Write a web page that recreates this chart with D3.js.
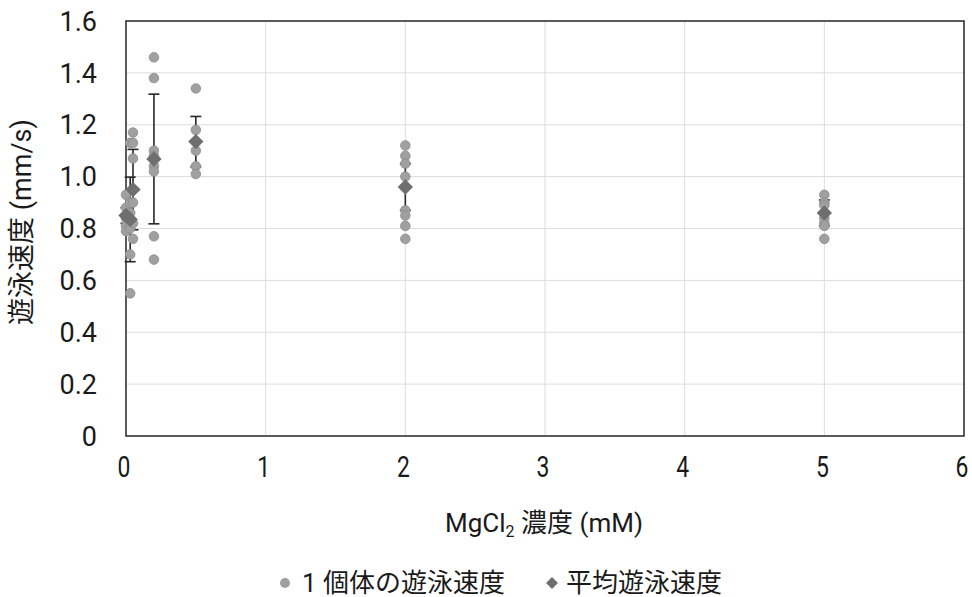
<!DOCTYPE html>
<html>
<head>
<meta charset="utf-8">
<script src="https://cdn.jsdelivr.net/npm/d3@7"></script>
<style>
  body { margin: 0; background: #fff; }
  text { font-family: Roboto, "Noto Sans CJK JP", sans-serif; fill: #1a1a1a; }
</style>
</head>
<body>
<div id="chart"></div>
<script>
// MgCl2 concentrations (mM)
const concs = [0, 0.03, 0.05, 0.2, 0.5, 2, 5]
// swimming speed of each individual (mm/s), one list per concentration
const individuals = [
  [0.93, 0.88, 0.84, 0.81, 0.79],
  [1.13, 0.90, 0.86, 0.83, 0.80, 0.70, 0.55],
  [1.17, 1.13, 1.07, 0.90, 0.82, 0.76],
  [1.46, 1.38, 1.10, 1.08, 1.04, 1.02, 0.77, 0.68],
  [1.34, 1.18, 1.10, 1.04, 1.01],
  [1.12, 1.08, 1.05, 1.00, 0.87, 0.85, 0.81, 0.76],
  [0.93, 0.90, 0.89, 0.86, 0.84, 0.82, 0.81, 0.76]
]
const means = [0.85, 0.835, 0.95, 1.068, 1.135, 0.96, 0.86]
const sds = [0.03, 0.163, 0.155, 0.25, 0.097, 0.09, 0.05]

const xTicks = [0, 1, 2, 3, 4, 5, 6]
const yTicks = [0, 0.2, 0.4, 0.6, 0.8, 1.0, 1.2, 1.4, 1.6]
const legendLabels = ['1 個体の遊泳速度', '平均遊泳速度']

const width = 972
const height = 597
const margin = { top: 21, right: 8, bottom: 161, left: 126 }

const x = d3.scaleLinear()
  .domain([0, 6])
  .range([margin.left, width - margin.right])

const y = d3.scaleLinear()
  .domain([0, 1.6])
  .range([height - margin.bottom, margin.top])

const svg = d3.select('#chart').append('svg')
  .attr('width', width)
  .attr('height', height)

// grid
svg.append('g')
  .selectAll('line')
  .data(yTicks.slice(1, -1)).enter()
  .append('line')
  .attr('x1', x(0)).attr('x2', x(6))
  .attr('y1', d => y(d)).attr('y2', d => y(d))
  .attr('stroke', '#dcdcdc')
  .attr('stroke-width', 1)

svg.append('g')
  .selectAll('line')
  .data(xTicks.slice(1, -1)).enter()
  .append('line')
  .attr('x1', d => x(d)).attr('x2', d => x(d))
  .attr('y1', y(0)).attr('y2', y(1.6))
  .attr('stroke', '#dcdcdc')
  .attr('stroke-width', 1)

// frame
svg.append('rect')
  .attr('x', x(0)).attr('y', y(1.6))
  .attr('width', x(6) - x(0)).attr('height', y(0) - y(1.6))
  .attr('fill', 'none')
  .attr('stroke', '#262626')
  .attr('stroke-width', 1.5)

// tick labels
svg.append('g')
  .selectAll('text')
  .data(yTicks).enter()
  .append('text')
  .attr('x', 97)
  .attr('y', d => y(d))
  .attr('dy', '0.36em')
  .attr('text-anchor', 'end')
  .attr('font-size', 27)
  .text(d => d === 0 ? '0' : d3.format('.1f')(d))

svg.append('g')
  .selectAll('text')
  .data(xTicks).enter()
  .append('text')
  .attr('transform', d => `translate(${x(d) - 2}, 477) scale(0.85, 1.12)`)
  .attr('text-anchor', 'middle')
  .attr('font-size', 27)
  .text(d => d)

// axis titles
const xTitle = svg.append('text')
  .attr('x', 544)
  .attr('y', 532)
  .attr('text-anchor', 'middle')
  .attr('font-size', 26)
xTitle.append('tspan').text('MgCl')
xTitle.append('tspan').attr('font-size', 16).attr('dy', 5).text('2')
xTitle.append('tspan').attr('dy', -5).text(' 濃度 (mM)')

svg.append('text')
  .attr('transform', `translate(31, 222) rotate(-90)`)
  .attr('text-anchor', 'middle')
  .attr('font-size', 27)
  .text('遊泳速度 (mm/s)')

// error bars (drawn under the markers)
const err = svg.append('g')
  .attr('stroke', '#262626')
  .attr('stroke-width', 1.6)
concs.forEach((c, i) => {
  const cx = x(c)
  const top = y(means[i] + sds[i])
  const bot = y(means[i] - sds[i])
  err.append('line').attr('x1', cx).attr('x2', cx).attr('y1', top).attr('y2', bot)
  err.append('line').attr('x1', cx - 5.5).attr('x2', cx + 5.5).attr('y1', top).attr('y2', top)
  err.append('line').attr('x1', cx - 5.5).attr('x2', cx + 5.5).attr('y1', bot).attr('y2', bot)
})

// individual points
const flat = concs.flatMap((c, i) => individuals[i].map(v => ({ c, v })))
svg.append('g')
  .selectAll('circle')
  .data(flat).enter()
  .append('circle')
  .attr('cx', d => x(d.c))
  .attr('cy', d => y(d.v))
  .attr('r', 4.8)
  .attr('fill', '#a0a0a0')
  .attr('stroke', '#8c8c8c')
  .attr('stroke-width', 0.8)

// means
const diamond = d3.symbol().type(d3.symbolDiamond2).size(150)
svg.append('g')
  .selectAll('path')
  .data(concs).enter()
  .append('path')
  .attr('transform', (d, i) => `translate(${x(d)}, ${y(means[i])})`)
  .attr('d', diamond)
  .attr('fill', '#6f6f6f')

// legend
const legend = svg.append('g')
legend.append('circle')
  .attr('cx', 285).attr('cy', 583).attr('r', 5)
  .attr('fill', '#a0a0a0')
legend.append('text')
  .attr('x', 302).attr('y', 583).attr('dy', '0.36em')
  .attr('font-size', 26)
  .text(legendLabels[0])
legend.append('path')
  .attr('transform', 'translate(552, 583)')
  .attr('d', d3.symbol().type(d3.symbolDiamond2).size(90))
  .attr('fill', '#6f6f6f')
legend.append('text')
  .attr('x', 566).attr('y', 583).attr('dy', '0.36em')
  .attr('font-size', 26)
  .text(legendLabels[1])
</script>
</body>
</html>
